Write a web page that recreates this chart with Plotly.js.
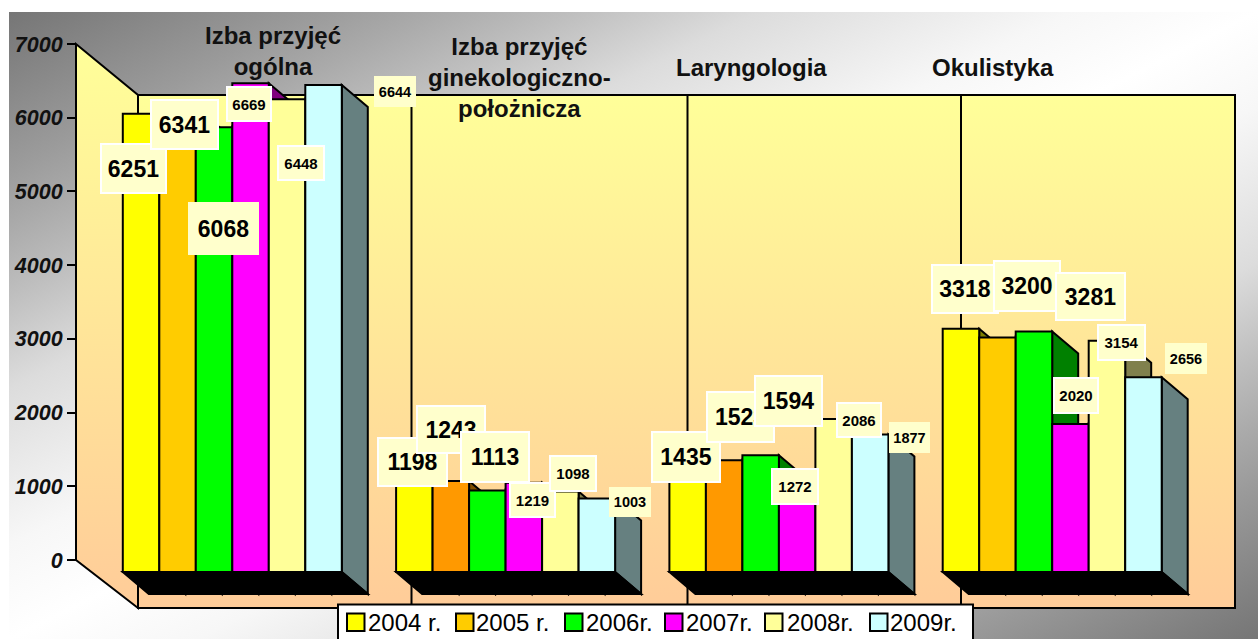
<!DOCTYPE html>
<html>
<head>
<meta charset="utf-8">
<script src="https://cdn.plot.ly/plotly-3.0.1.min.js"></script>
<style>html,body{margin:0;padding:0;background:#fff;overflow:hidden}#chart{width:1258px;height:639px}</style>
</head>
<body>
<div id="chart"></div>
<script>
// ---- data ----
const categories = ["Izba przyjęć<br>ogólna", "Izba przyjęć<br>ginekologiczno-<br>położnicza", "Laryngologia", "Okulistyka"];
const seriesNames = ["2004 r.", "2005 r.", "2006r.", "2007r.", "2008r.", "2009r."];
const values2004 = [6251, 1198, 1435, 3318];
const values2005 = [6341, 1243, 1523, 3200];
const values2006 = [6068, 1113, 1594, 3281];
const values2007 = [6669, 1219, 1272, 2020];
const values2008 = [6448, 1098, 2086, 3154];
const values2009 = [6644, 1003, 1877, 2656];
const yTicks = [0, 1000, 2000, 3000, 4000, 5000, 6000, 7000];

// ---- styles ----
const seriesColors = [
  ["#FFFF00","#FFFF00","#FFFF00","#FFFF00"],
  ["#FFCC00","#FF9900","#FF9900","#FFCC00"],
  ["#00FF00","#00FF00","#00FF00","#00FF00"],
  ["#FF00FF","#FF00FF","#FF00FF","#FF00FF"],
  ["#FFFF99","#FFFF99","#FFFF99","#FFFF99"],
  ["#CCFFFF","#CCFFFF","#CCFFFF","#CCFFFF"]
];
const sideColors = [
  ["#808000","#808000","#808000","#808000"],
  ["#806600","#804D00","#804D00","#806600"],
  ["#008000","#008000","#008000","#008000"],
  ["#800080","#800080","#800080","#800080"],
  ["#80804D","#80804D","#80804D","#80804D"],
  ["#668080","#668080","#668080","#668080"]
];
const legendColors = ["#FFFF00","#FFCC00","#00FF00","#FF00FF","#FFFF99","#CCFFFF"];
// data label boxes per series, per category: [centre x, centre y, width, height, font size, white border]
const labelBoxes = [
  [[133.5,168,67,51,23,1],[412.5,462,71,50,23,1],[686,457,70,52,23,1],[965,289,68,50,23,1]],
  [[184.5,125,69,51,23,1],[451,429,70,49,23,1],[740.5,417,69,52,23,1],[1027,286,68,52,23,1]],
  [[223,228,71,53,23,0],[495,457,70,52,23,1],[788.5,401,69,52,23,1],[1090.5,296.5,71,49,23,1]],
  [[249,104,46,36,15,1],[532.5,500,47,36,15,1],[795,486.5,48,37,15,1],[1076,395.5,46,37,15,1]],
  [[301,163,48,36,15,1],[572.5,473,48,37,15,1],[858.5,420,46,36,15,1],[1121.5,342.5,49,37,15,1]],
  [[395,92,42,31,14.5,0],[630,502,42,30,14.5,0],[909.5,437.5,41,31,14.5,0],[1186,358.5,42,31,14.5,0]]
];
const titleBoxes = [[272.5,51],[519,78],[751.5,68],[992.5,68]];
const legendSwatchX = [347,456,565,665,765,870];
const legendTextX = [368,476,586,686,787,890];

// ---- geometry ----
const W = 1258, H = 639;
const FONT = '"Liberation Sans", Arial, sans-serif';
const allSeries = [values2004, values2005, values2006, values2007, values2008, values2009];
const pxPerCat = 273.3, firstCentre = 232.3, groupWidth = 219;
const pxPerVal = 0.0733, baseY = 572;
const tickPxPerVal = 516 / 7000, tickBaseY = 560;
const depthX = 26, depthY = 22;
const barGap = 1 - groupWidth / pxPerCat;
const barW = (1 - barGap) / 6;
const dCat = depthX / pxPerCat, dVal = depthY / pxPerVal;
const px = x => x / W, py = y => 1 - y / H;

function poly(pts) {
  return "M" + pts.map(p => p[0].toFixed(4) + "," + p[1].toFixed(2)).join("L") + "Z";
}

// ---- backdrop ----
const backdrop = `<svg xmlns="http://www.w3.org/2000/svg" width="${W}" height="${H}" viewBox="0 0 ${W} ${H}">
<defs>
<linearGradient id="bg" gradientUnits="userSpaceOnUse" x1="382" y1="-175" x2="885" y2="826">
<stop offset="0" stop-color="#767676"/><stop offset="0.025" stop-color="#7d7d7d"/><stop offset="0.125" stop-color="#9b9b9b"/>
<stop offset="0.17" stop-color="#aaaaaa"/><stop offset="0.225" stop-color="#bebebe"/><stop offset="0.3" stop-color="#dcdcdc"/>
<stop offset="0.425" stop-color="#f7f7f7"/><stop offset="0.5" stop-color="#ffffff"/>
<stop offset="0.575" stop-color="#f7f7f7"/><stop offset="0.7" stop-color="#dcdcdc"/><stop offset="0.775" stop-color="#bebebe"/>
<stop offset="0.83" stop-color="#aaaaaa"/><stop offset="0.875" stop-color="#9b9b9b"/><stop offset="0.975" stop-color="#7d7d7d"/>
<stop offset="1" stop-color="#767676"/>
</linearGradient>
<linearGradient id="back" gradientUnits="userSpaceOnUse" x1="0" y1="95" x2="0" y2="608">
<stop offset="0" stop-color="#FFFF99"/><stop offset="1" stop-color="#FFCC99"/></linearGradient>
<linearGradient id="left" gradientUnits="userSpaceOnUse" x1="0" y1="44" x2="0" y2="608">
<stop offset="0" stop-color="#FFFF99"/><stop offset="1" stop-color="#FFCC99"/></linearGradient>
</defs>
<rect width="${W}" height="${H}" fill="#fff"/>
<rect x="9" y="12" width="${W-9}" height="${H-12}" fill="url(#bg)"/>
<polygon points="76,44 138,95 138,608 76,560" fill="url(#left)" stroke="#000" stroke-width="2"/>
<rect x="138" y="95" width="1097" height="513" fill="url(#back)" stroke="#000" stroke-width="2"/>
<path d="M411.5,95V608M687.5,95V608M961,95V608" stroke="#000" stroke-width="2" fill="none"/>
</svg>`;

// ---- 3D faces, computed from the values through the data axes ----
const shapes = [];
categories.forEach((c, i) => {
  const left = i - groupWidth / pxPerCat / 2;
  const right = i + groupWidth / pxPerCat / 2;
  allSeries.forEach((vals, k) => {
    const r = i + (k - 2) * barW;
    shapes.push({type:"path", layer:"below", xref:"x", yref:"y",
      path: poly([[r,vals[i]],[r+dCat,vals[i]-dVal],[r+dCat,-dVal],[r,0]]),
      fillcolor: sideColors[k][i], line:{color:"#000", width:2}});
  });
  shapes.push({type:"path", layer:"below", xref:"x", yref:"y",
    path: poly([[left,0],[left+dCat,-dVal],[right+dCat,-dVal],[right,0]]),
    fillcolor:"#000", line:{color:"#000", width:2}});
});

// ---- legend ----
const annotations = [];
shapes.push({type:"rect", layer:"above", xref:"paper", yref:"paper",
  x0:px(338), x1:px(973), y0:py(645), y1:py(604.5), fillcolor:"#fff", line:{color:"#000", width:2}});
seriesNames.forEach((n, k) => {
  shapes.push({type:"rect", layer:"above", xref:"paper", yref:"paper",
    x0:px(legendSwatchX[k]), x1:px(legendSwatchX[k]+17.5), y0:py(631), y1:py(613.5),
    fillcolor:legendColors[k], line:{color:"#000", width:2}});
  annotations.push({xref:"paper", yref:"paper", x:px(legendTextX[k]), y:py(622.5), xanchor:"left", yanchor:"middle",
    text:n, showarrow:false, borderpad:0, borderwidth:0, font:{family:FONT, size:24, color:"#000"}});
});

// ---- category titles ----
categories.forEach((c, i) => {
  annotations.push({xref:"paper", yref:"paper", x:px(titleBoxes[i][0]), y:py(titleBoxes[i][1]),
    xanchor:"center", yanchor:"middle", align:"center", text:"<b>"+c+"</b>", showarrow:false,
    font:{family:FONT, size:24, color:"#111"}});
});

// ---- data labels ----
allSeries.forEach((vals, k) => {
  vals.forEach((v, i) => {
    const b = labelBoxes[k][i];
    const bw = b[5] ? 2 : 0;
    annotations.push({xref:"paper", yref:"paper", x:px(b[0]), y:py(b[1]),
      xanchor:"center", yanchor:"middle", align:"center", valign:"middle",
      width:b[2]-2*bw, height:b[3]-2*bw, borderpad:0, borderwidth:bw,
      bordercolor:"#fff", bgcolor:"#FFFFCC", text:"<b>"+v+"</b>", showarrow:false,
      font:{family:FONT, size:b[4], color:"#000"}});
  });
});

// ---- traces ----
const traces = allSeries.map((vals, k) => ({
  type:"bar", name:seriesNames[k], x:categories, y:vals, xaxis:"x", yaxis:"y",
  marker:{color:seriesColors[k], line:{color:"#000", width:2}},
  hoverinfo:"x+y+name", showlegend:false
}));
traces.push({type:"scatter", mode:"markers", x:yTicks.map(() => categories[0]), y:yTicks,
  xaxis:"x", yaxis:"y2", marker:{opacity:0, size:1}, hoverinfo:"skip", showlegend:false});

const layout = {
  width:W, height:H, margin:{l:0,r:0,t:0,b:0,pad:0},
  paper_bgcolor:"#fff", plot_bgcolor:"rgba(0,0,0,0)",
  barmode:"group", bargap:barGap, bargroupgap:0, showlegend:false,
  xaxis:{type:"category", categoryorder:"array", categoryarray:categories, visible:false, fixedrange:true,
    range:[-firstCentre/pxPerCat, (W-firstCentre)/pxPerCat]},
  yaxis:{visible:false, fixedrange:true, range:[(baseY-H)/pxPerVal, baseY/pxPerVal]},
  yaxis2:{overlaying:"y", anchor:"free", position:76/W, side:"left", fixedrange:true,
    range:[(tickBaseY-H)/tickPxPerVal, tickBaseY/tickPxPerVal],
    tickmode:"array", tickvals:yTicks, ticktext:yTicks.map(String),
    ticks:"outside", ticklen:9, tickwidth:2, tickcolor:"#000", showgrid:false, zeroline:false, showline:false,
    tickfont:{family:FONT, size:21.5, color:"#111", weight:"bold", style:"italic"}},
  images:[{source:"data:image/svg+xml;charset=utf-8,"+encodeURIComponent(backdrop), xref:"paper", yref:"paper",
    x:0, y:1, sizex:1, sizey:1, xanchor:"left", yanchor:"top", sizing:"stretch", layer:"below"}],
  shapes:shapes, annotations:annotations
};
Plotly.newPlot("chart", traces, layout, {displayModeBar:false, staticPlot:true});
</script>
</body>
</html>
